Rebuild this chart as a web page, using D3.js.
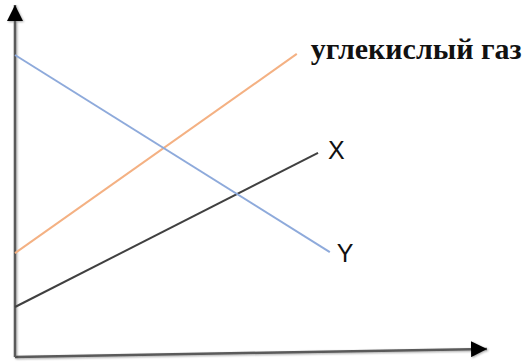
<!DOCTYPE html>
<html>
<head>
<meta charset="utf-8">
<script src="https://cdn.jsdelivr.net/npm/d3@7"></script>
<style>
  body { margin: 0; background: #fff; }
</style>
</head>
<body>
<div id="wrapper"></div>
<script>
// line endpoints in chart units (0..100 on both axes)
const seriesNames = ["углекислый газ", "X", "Y"]
const seriesStart = [[0, 29.5], [0, 14.2], [0, 85.8]]
const seriesEnd = [[59.7, 86.1], [64.2, 58.0], [66.7, 29.8]]
const seriesColors = ["#f4b183", "#404040", "#8eaadb"]

// axes (arrow ends)
const axisStart = [[0, 0], [0, 0]]
const axisEnd = [[100, 2.3], [0, 100]]

let dimensions = {
  width: 524,
  height: 362,
}

const xScale = d3.scaleLinear()
  .domain([0, 100])
  .range([15, 487])

const yScale = d3.scaleLinear()
  .domain([0, 100])
  .range([357, 5])

const wrapper = d3.select("#wrapper")
  .append("svg")
    .attr("width", dimensions.width)
    .attr("height", dimensions.height)

const defs = wrapper.append("defs")
defs.append("marker")
    .attr("id", "arrow")
    .attr("viewBox", "0 0 10 10")
    .attr("refX", 10)
    .attr("refY", 5)
    .attr("markerUnits", "userSpaceOnUse")
    .attr("markerWidth", 16)
    .attr("markerHeight", 16)
    .attr("orient", "auto")
  .append("path")
    .attr("d", "M0,0 L10,5 L0,10 Z")
    .attr("fill", "#000")

// vertical line has an empty bbox, so the filter region is given in user space
const shadow = defs.append("filter")
    .attr("id", "shadow")
    .attr("filterUnits", "userSpaceOnUse")
    .attr("x", 0)
    .attr("y", 0)
    .attr("width", dimensions.width)
    .attr("height", dimensions.height)
shadow.append("feDropShadow")
    .attr("dx", 1)
    .attr("dy", 1)
    .attr("stdDeviation", 0.8)
    .attr("flood-color", "#000")
    .attr("flood-opacity", 0.35)

// axes
wrapper.selectAll(".axis")
  .data(axisStart)
  .enter()
  .append("line")
    .attr("class", "axis")
    .attr("x1", d => xScale(d[0]))
    .attr("y1", d => yScale(d[1]))
    .attr("x2", (d, i) => xScale(axisEnd[i][0]))
    .attr("y2", (d, i) => yScale(axisEnd[i][1]))
    .attr("stroke", "#5a5a5a")
    .attr("stroke-width", 2.5)
    .attr("filter", "url(#shadow)")
    .attr("marker-end", "url(#arrow)")

// series lines
wrapper.selectAll(".series")
  .data(seriesNames)
  .enter()
  .append("line")
    .attr("class", "series")
    .attr("x1", (d, i) => xScale(seriesStart[i][0]))
    .attr("y1", (d, i) => yScale(seriesStart[i][1]))
    .attr("x2", (d, i) => xScale(seriesEnd[i][0]))
    .attr("y2", (d, i) => yScale(seriesEnd[i][1]))
    .attr("stroke", (d, i) => seriesColors[i])
    .attr("stroke-width", 2)

// labels next to line ends
const labelOffsets = [[14, 5], [10, 6], [7, 10]]

wrapper.selectAll(".label")
  .data(seriesNames)
  .enter()
  .append("text")
    .attr("class", "label")
    .attr("x", (d, i) => xScale(seriesEnd[i][0]) + labelOffsets[i][0])
    .attr("y", (d, i) => yScale(seriesEnd[i][1]) + labelOffsets[i][1])
    .attr("fill", "#111")
    .style("font-family", (d, i) => i == 0 ? "'Liberation Serif', 'Times New Roman', serif" : "'Liberation Sans', Arial, sans-serif")
    .style("font-weight", (d, i) => i == 0 ? "bold" : "normal")
    .style("font-size", (d, i) => i == 0 ? "30px" : "25px")
    .text(d => d)
</script>
</body>
</html>
